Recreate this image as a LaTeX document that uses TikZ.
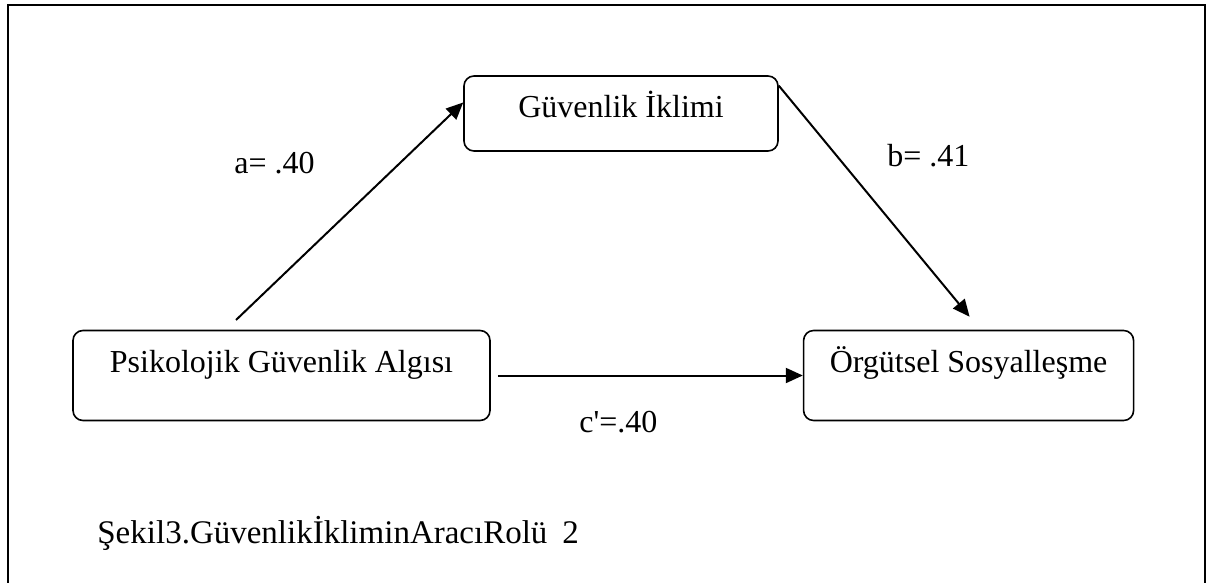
\documentclass[tikz,border=0pt]{standalone}
\usepackage{fontspec}
\setmainfont{Liberation Serif}
\usetikzlibrary{arrows.meta}
\usetikzlibrary{positioning}
\usetikzlibrary{calc}
\newcommand\boxnode[4][]{%
  \node[boxnode,#1,minimum width=#2pt] (#3) {#4};
}

\begin{document}
\begin{tikzpicture}[
x=0.5pt, y=-0.5pt,
font=\fontsize{16}{19}\selectfont,
node distance=156pt,
boxnode/.style={
  rectangle,
  rounded corners=5pt,
  draw,
  line width=0.8pt,
  inner sep=0pt,
  text height=21pt,
  text depth=24pt},
arr/.style={-{Triangle[length=8.5pt,width=7.5pt]}, line width=1pt},
lbl/.style={anchor=base west, inner sep=0pt}
]
\useasboundingbox (0,0) rectangle (1226,583);
\draw[line width=1pt] (8,600) -- (8,5.5) -- (1205,5.5) -- (1205,600);
\boxnode[at={(281.5,375.5)}]{208.5}{psy}{Psikolojik Güvenlik Algısı}
\boxnode[right=of psy]{165}{soc}{Örgütsel Sosyalleşme}
\boxnode[text depth=16.5pt,at={(621,113.5)}]{157}{clim}{Güvenlik İklimi}
\coordinate (astart) at (236,320);
\draw [arr] (astart) -- (clim.176);
\draw [arr] (clim.10) -- ($(soc.north)+(1,-13)$);
\draw [arr, shorten <=3.5pt] (psy.east) -- (soc.west);
\node[lbl] (a) at (234,173) {a= .40};
\node[lbl] (b) at (887,167) {b= .41};
\node[lbl] (c) at (579,432) {c\textquotesingle=.40};
\node[lbl, font=\fontsize{16.5}{19}\selectfont] (cap) at (97,543) {Şekil3.GüvenlikİkliminAracıRolü\hspace{7.5pt}2};
\end{tikzpicture}
\end{document}
